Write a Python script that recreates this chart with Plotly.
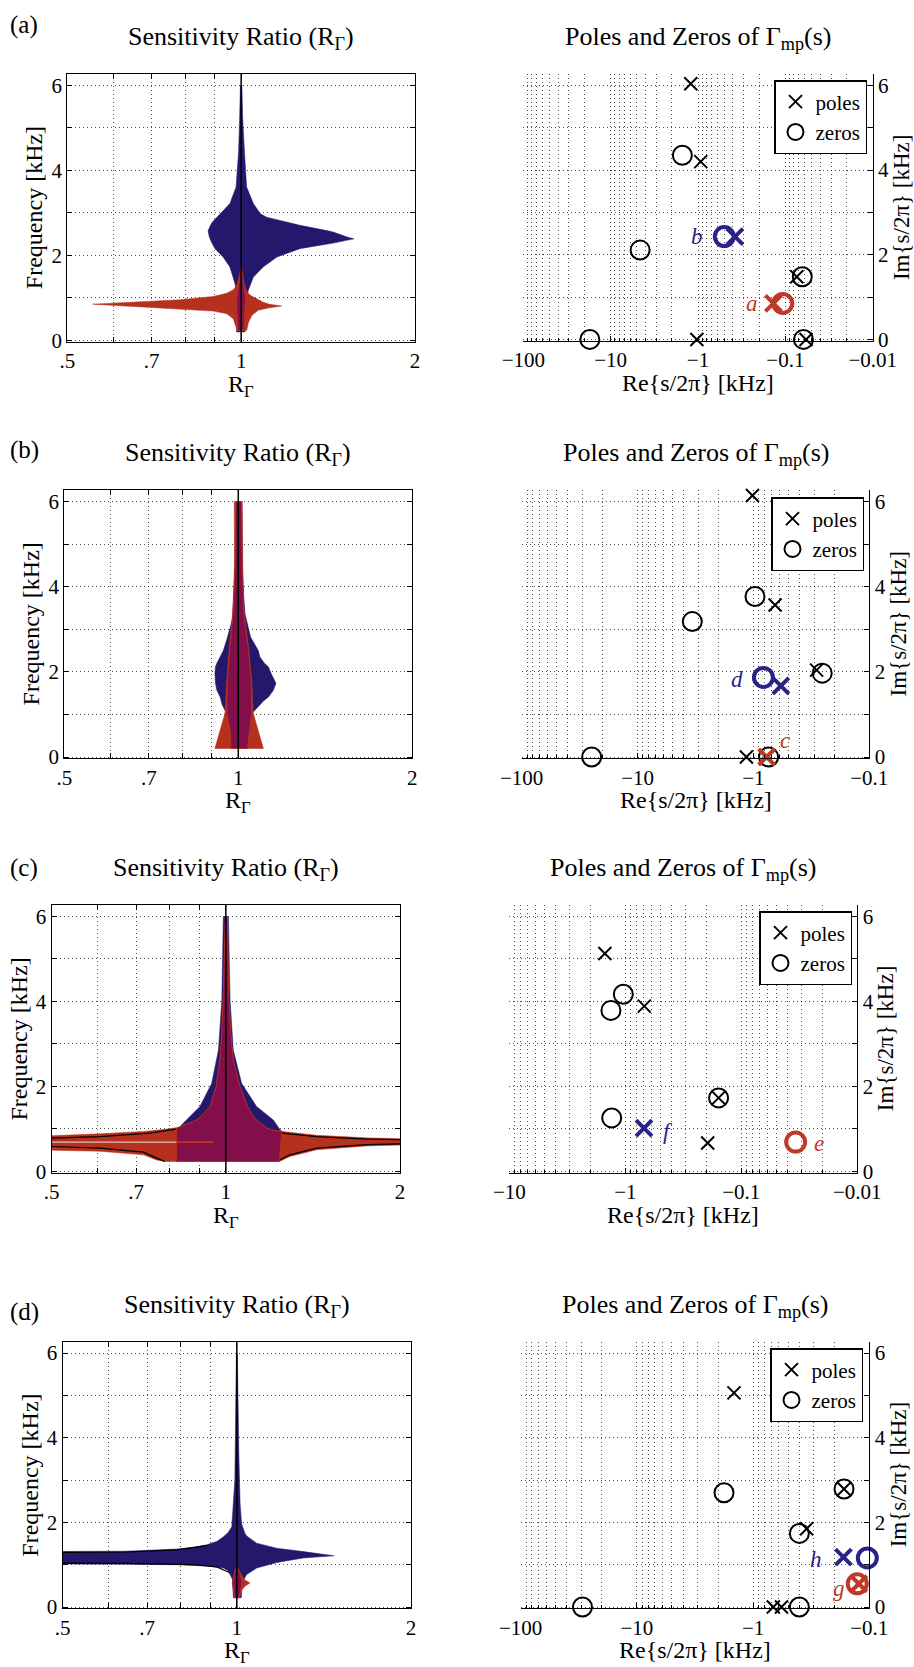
import math
import plotly.graph_objects as go

W, H = 914, 1667
FONT = "Liberation Serif"
BLUE, RED, MIX = "#24186C", "#B5311E", "#830F4A"
MK_BLUE, MK_RED = "#2A2286", "#C03826"
GRID = "rgba(0,0,0,0.7)"

# ---------------- sensitivity ratio regions (freq in kHz, R_Gamma) ----------------
# (a)
a_blue_f = [0.2, 0.94, 1.18, 1.33, 1.49, 1.73, 1.96, 2.16, 2.29, 2.39, 2.43, 2.55, 2.59, 2.71, 2.78, 2.90, 2.98, 3.22, 3.61, 4.47, 5.25, 6.0]
a_blue_lo = [0.982, 0.985, 0.980, 0.976, 0.968, 0.956, 0.931, 0.901, 0.890, 0.884, 0.881, 0.877, 0.877, 0.885, 0.891, 0.908, 0.919, 0.956, 0.980, 0.990, 0.994, 0.997]
a_blue_hi = [1.015, 1.022, 1.029, 1.038, 1.050, 1.092, 1.152, 1.264, 1.444, 1.568, 1.530, 1.444, 1.400, 1.264, 1.200, 1.107, 1.080, 1.050, 1.022, 1.013, 1.006, 1.003]
a_red_R = [0.553, 0.601, 0.686, 0.784, 0.895, 0.944, 0.969, 0.980, 0.985, 1.0, 1.008, 1.022, 1.03, 1.044, 1.07, 1.092, 1.12, 1.175]
a_red_flo = [0.854, 0.824, 0.784, 0.745, 0.69, 0.63, 0.51, 0.31, 0.235, 0.235, 0.235, 0.235, 0.43, 0.59, 0.71, 0.74, 0.77, 0.81]
a_red_fhi = [0.856, 0.887, 0.918, 0.957, 1.035, 1.11, 1.19, 1.28, 1.36, 1.69, 1.41, 1.18, 1.10, 1.04, 0.96, 0.90, 0.85, 0.81]
a_mix_f = [0.235, 0.6, 0.98, 1.25, 1.57, 1.72]
a_mix_lo = [0.986, 0.985, 0.982, 0.989, 0.995, 1.0]
a_mix_hi = [1.012, 1.013, 1.018, 1.013, 1.006, 1.0]

# (b)
b_blue_f = [0.2, 0.6, 1.02, 1.1, 1.22, 1.33, 1.41, 1.57, 1.73, 1.96, 2.12, 2.2, 2.35, 2.5, 2.82, 3.2, 3.37, 4.16, 6.0]
b_blue_lo = [0.971, 0.969, 0.962, 0.948, 0.938, 0.932, 0.930, 0.918, 0.913, 0.911, 0.913, 0.918, 0.930, 0.942, 0.958, 0.975, 0.978, 0.987, 0.990]
b_blue_hi = [1.038, 1.045, 1.055, 1.069, 1.090, 1.108, 1.128, 1.150, 1.162, 1.140, 1.127, 1.110, 1.090, 1.083, 1.050, 1.034, 1.027, 1.017, 1.013]
b_red_f = [0.2, 1.02, 1.8, 2.6, 3.37, 4.5, 6.0]
b_red_lo = [0.911, 0.948, 0.955, 0.965, 0.978, 0.985, 0.984]
b_red_hi = [1.105, 1.062, 1.055, 1.040, 1.023, 1.018, 1.016]
b_mix_f = [0.2, 0.6, 1.02, 1.8, 2.6, 3.37, 4.5, 6.0]
b_mix_lo = [0.971, 0.969, 0.955, 0.957, 0.967, 0.979, 0.987, 0.990]
b_mix_hi = [1.038, 1.045, 1.055, 1.053, 1.040, 1.023, 1.016, 1.013]

# (c)
c_blue_f = [0.235, 0.94, 1.02, 1.21, 1.53, 2.07, 2.86, 4.03, 6.0]
c_blue_lo = [0.822, 0.822, 0.828, 0.856, 0.902, 0.945, 0.971, 0.984, 0.990]
c_blue_hi = [1.237, 1.249, 1.235, 1.208, 1.130, 1.065, 1.030, 1.017, 1.010]
c_red_R = [0.45, 0.5, 0.606, 0.72, 0.759, 0.785, 0.82, 1.0, 1.237, 1.249, 1.29, 1.436, 1.752, 2.0, 2.1]
c_red_flo = [0.50, 0.50, 0.475, 0.39, 0.27, 0.235, 0.235, 0.235, 0.235, 0.26, 0.35, 0.51, 0.60, 0.62, 0.62]
c_red_fhi = [0.85, 0.84, 0.885, 0.94, 0.97, 0.99, 1.03, 1.0, 0.95, 0.94, 0.92, 0.85, 0.79, 0.77, 0.77]
c_mix_f = [0.235, 0.94, 0.97, 1.02, 1.21, 1.29, 1.53, 2.0, 2.62, 3.25, 4.03, 4.81, 6.0]
c_mix_lo = [0.822, 0.822, 0.822, 0.822, 0.890, 0.905, 0.939, 0.962, 0.976, 0.984, 0.989, 0.993, 0.998]
c_mix_hi = [1.237, 1.249, 1.210, 1.176, 1.130, 1.116, 1.090, 1.058, 1.030, 1.020, 1.012, 1.009, 1.006]
c_edge_ul_R = [0.45, 0.5, 0.606, 0.739, 0.82]
c_edge_ul_f = [0.78, 0.784, 0.82, 0.90, 0.995]
c_edge_ll_R = [0.45, 0.5, 0.606, 0.72, 0.759, 0.785]
c_edge_ll_f = [0.59, 0.587, 0.549, 0.455, 0.314, 0.235]
c_edge_ur_R = [1.249, 1.436, 1.752, 2.0, 2.1]
c_edge_ur_f = [0.90, 0.82, 0.76, 0.745, 0.745]
c_edge_lr_R = [1.24, 1.29, 1.436, 1.752, 2.0, 2.1]
c_edge_lr_f = [0.275, 0.39, 0.55, 0.63, 0.65, 0.65]
c_slit_R = [0.45, 0.82]
c_slit_f = [0.69, 0.69]
c_stub_R = [0.82, 0.951]
c_stub_f = [0.69, 0.69]

# (d)
d_blue_R = [0.45, 0.5, 0.645, 0.787, 0.841, 0.887, 0.923, 0.948, 0.966, 0.980, 0.983, 0.986, 0.992, 0.995, 0.998, 1.002, 1.008, 1.013, 1.018, 1.02, 1.033, 1.04, 1.082, 1.172, 1.303, 1.472]
d_blue_flo = [1.02, 1.02, 1.01, 1.0, 0.99, 0.97, 0.94, 0.92, 0.86, 0.7, 0.65, 0.22, 0.22, 0.22, 0.22, 0.22, 0.22, 0.22, 0.22, 0.57, 0.72, 0.77, 0.92, 1.05, 1.16, 1.21]
d_blue_fhi = [1.31, 1.31, 1.32, 1.37, 1.41, 1.47, 1.55, 1.66, 1.76, 1.9, 2.05, 2.45, 3.0, 3.62, 6.0, 6.0, 3.62, 2.45, 2.05, 1.95, 1.74, 1.68, 1.51, 1.39, 1.31, 1.21]
d_red_f = [0.22, 0.4, 0.5, 0.57, 0.65, 0.8, 0.96]
d_red_lo = [0.99, 0.985, 0.982, 0.982, 0.984, 0.99, 1.0]
d_red_hi = [1.01, 1.02, 1.035, 1.054, 1.03, 1.015, 1.0]
d_mix_f = [0.22, 0.5, 0.61, 0.8, 0.96]
d_mix_lo = [0.99, 0.984, 0.983, 0.99, 1.0]
d_mix_hi = [1.01, 1.018, 1.02, 1.012, 1.0]
d_edge_u_R = [0.45, 0.497, 0.645, 0.787, 0.887]
d_edge_u_f = [1.29, 1.29, 1.30, 1.35, 1.45]
d_edge_l_R = [0.45, 0.497, 0.645, 0.841, 0.923, 0.973]
d_edge_l_f = [1.04, 1.04, 1.03, 1.0, 0.95, 0.81]

unity_R = [1.0, 1.0]
unity_f = [-0.5, 7.0]

# ---------------- poles and zeros (Re, Im of s/2pi in kHz) ----------------
pa_poles_re = [-1.21, -0.93, -0.074, -1.03, -0.058]
pa_poles_im = [6.04, 4.20, 1.48, 0.0, 0.0]
pa_zeros_re = [-1.51, -4.6, -0.064, -17.3, -0.062]
pa_zeros_im = [4.35, 2.11, 1.48, 0.0, 0.0]
pa_hl_re = [-0.137, -0.107, -0.377, -0.50]
pa_hl_im = [0.85, 0.85, 2.43, 2.43]
pa_hl_kind = ["pole", "zero", "pole", "zero"]
pa_hl_tone = ["red", "red", "blue", "blue"]
pa_hl_tag = ["a", "", "", "b"]

pb_poles_re = [-1.02, -0.65, -0.285, -1.15]
pb_poles_im = [6.14, 3.57, 2.04, 0.0]
pb_zeros_re = [-0.97, -3.37, -0.255, -24.9, -0.74]
pb_zeros_im = [3.77, 3.18, 1.97, 0.0, 0.0]
pb_hl_re = [-0.77, -0.82, -0.58]
pb_hl_im = [0.0, 1.87, 1.67]
pb_hl_kind = ["pole", "zero", "pole"]
pb_hl_tone = ["red", "blue", "blue"]
pb_hl_tag = ["c", "d", ""]

pc_poles_re = [-1.50, -0.686, -0.157, -0.195]
pc_poles_im = [5.13, 3.89, 1.73, 0.67]
pc_zeros_re = [-1.04, -1.33, -0.157, -1.31]
pc_zeros_im = [4.17, 3.79, 1.73, 1.26]
pc_hl_re = [-0.69, -0.034]
pc_hl_im = [1.02, 0.69]
pc_hl_kind = ["pole", "zero"]
pc_hl_tone = ["blue", "red"]
pc_hl_tag = ["f", "e"]

pd_poles_re = [-1.46, -0.165, -0.346, -0.67, -0.57]
pd_poles_im = [5.06, 2.79, 1.85, 0.0, 0.0]
pd_zeros_re = [-1.78, -0.165, -0.40, -29.4, -0.40]
pd_zeros_im = [2.70, 2.79, 1.74, 0.0, 0.0]
pd_hl_re = [-0.167, -0.104, -0.127, -0.123]
pd_hl_im = [1.18, 1.16, 0.55, 0.55]
pd_hl_kind = ["pole", "zero", "zero", "pole"]
pd_hl_tone = ["blue", "blue", "red", "red"]
pd_hl_tag = ["h", "", "g", ""]

left_ticks = [0.5, 0.7, 1, 2]
left_ticktext = [".5", ".7", "1", "2"]
left_minor = [0.6, 0.8, 0.9]
freq_ticks = [0, 2, 4, 6]
freq_minor = [1, 3, 5]
re_ticks = [100, 10, 1, 0.1, 0.01]
re_ticktext = ["\u2212100", "\u221210", "\u22121", "\u22120.1", "\u22120.01"]
panel_names = ["(a)", "(b)", "(c)", "(d)"]

# ---------------- layout geometry (pixels) ----------------
LEFT_BOX = [(67.3, 415, 74, 341.7), (64.3, 412.3, 490, 758.3),
            (51.7, 400, 905, 1172.7), (62.7, 411, 1341.7, 1608.3)]
RIGHT_BOX = [(523.3, 872.7, 74, 340.7), (521.7, 869.3, 490, 758.3),
             (509.3, 857.3, 905, 1172.7), (520.7, 869.3, 1341.7, 1608.3)]
RIGHT_XRANGE = [[2, -2], [2, -1], [1, -2], [2, -1]]
YRANGE = [-0.03, 6.27]
LABEL_TOP = [9, 434, 852, 1296]
LEGEND_POS = [(867, 80), (864, 497), (852, 911), (863, 1348)]
TAG_SHIFT = {"a": (-21, 0), "b": (-27, 0), "c": (18, 17), "d": (-26, -2),
             "e": (23, -1), "f": (24, -3), "g": (-18, -5), "h": (-27, -2)}

LEFT_REGIONS = [
    [("v", a_blue_f, a_blue_lo, a_blue_hi, BLUE), ("h", a_red_R, a_red_flo, a_red_fhi, RED),
     ("v", a_mix_f, a_mix_lo, a_mix_hi, MIX)],
    [("v", b_blue_f, b_blue_lo, b_blue_hi, BLUE), ("v", b_red_f, b_red_lo, b_red_hi, RED),
     ("v", b_mix_f, b_mix_lo, b_mix_hi, MIX)],
    [("v", c_blue_f, c_blue_lo, c_blue_hi, BLUE), ("h", c_red_R, c_red_flo, c_red_fhi, RED),
     ("v", c_mix_f, c_mix_lo, c_mix_hi, MIX)],
    [("h", d_blue_R, d_blue_flo, d_blue_fhi, BLUE), ("v", d_red_f, d_red_lo, d_red_hi, RED),
     ("v", d_mix_f, d_mix_lo, d_mix_hi, MIX)],
]
LEFT_EDGES = [
    [], [],
    [(c_edge_ul_R, c_edge_ul_f, "black"), (c_edge_ll_R, c_edge_ll_f, "black"),
     (c_edge_ur_R, c_edge_ur_f, "black"), (c_edge_lr_R, c_edge_lr_f, "black"),
     (c_slit_R, c_slit_f, "#D9C2BC"), (c_stub_R, c_stub_f, "#D2451F")],
    [(d_edge_u_R, d_edge_u_f, "black"), (d_edge_l_R, d_edge_l_f, "black")],
]
RIGHT_DATA = [
    (pa_poles_re, pa_poles_im, pa_zeros_re, pa_zeros_im, pa_hl_re, pa_hl_im, pa_hl_kind, pa_hl_tone, pa_hl_tag),
    (pb_poles_re, pb_poles_im, pb_zeros_re, pb_zeros_im, pb_hl_re, pb_hl_im, pb_hl_kind, pb_hl_tone, pb_hl_tag),
    (pc_poles_re, pc_poles_im, pc_zeros_re, pc_zeros_im, pc_hl_re, pc_hl_im, pc_hl_kind, pc_hl_tone, pc_hl_tag),
    (pd_poles_re, pd_poles_im, pd_zeros_re, pd_zeros_im, pd_hl_re, pd_hl_im, pd_hl_kind, pd_hl_tone, pd_hl_tag),
]


def fx(px):
    return px / W


def fy(py):
    return 1 - py / H


def suffix(n):
    return "" if n == 1 else str(n)


def polygon(kind, a, lo, hi):
    if kind == "v":  # a = frequency, lo/hi = R edges
        return lo + hi[::-1] + [lo[0]], a + a[::-1] + [a[0]]
    # a = R, lo/hi = frequency edges
    return a + a[::-1] + [a[0]], lo + hi[::-1] + [lo[0]]


fig = go.Figure()
layout = dict(width=W, height=H, margin=dict(l=0, r=0, t=0, b=0), template="none",
              paper_bgcolor="white", plot_bgcolor="white",
              font=dict(family=FONT, size=21, color="black"), showlegend=True)
annotations = []

axis_common = dict(showline=True, linecolor="black", linewidth=1.3, ticks="inside", ticklen=5,
                   tickcolor="black", showgrid=True, gridcolor=GRID, griddash="1px,3px",
                   gridwidth=1, zeroline=False, automargin=False,
                   tickfont=dict(family=FONT, size=21, color="black"))
minor_grid = dict(tickmode="array", ticks="inside", tickcolor="black", showgrid=True,
                  gridcolor=GRID, griddash="1px,3px", gridwidth=1)

decade_minor = [k * 10 ** e for e in range(-3, 3) for k in range(2, 10)]

for i in range(4):
    # ---------- left: sensitivity ratio ----------
    n = 2 * i + 1
    sx, sy = "x" + suffix(n), "y" + suffix(n)
    l, r, t, b = LEFT_BOX[i]
    for kind, a, lo, hi, col in LEFT_REGIONS[i]:
        xs, ys = polygon(kind, a, lo, hi)
        fig.add_trace(go.Scatter(
            x=xs, y=ys, mode="lines", fill="toself", fillcolor=col,
            line=dict(color=RED if col == MIX else col, width=1 if col == MIX else 0.5),
            hoverinfo="skip", showlegend=False, xaxis=sx, yaxis=sy))
    for xs, ys, col in LEFT_EDGES[i]:
        fig.add_trace(go.Scatter(x=xs, y=ys, mode="lines", line=dict(color=col, width=1.2),
                                 hoverinfo="skip", showlegend=False, xaxis=sx, yaxis=sy))
    fig.add_trace(go.Scatter(x=unity_R, y=unity_f, mode="lines", line=dict(color="black", width=1.5),
                             hoverinfo="skip", showlegend=False, xaxis=sx, yaxis=sy))

    layout["xaxis" + suffix(n)] = dict(
        axis_common, type="log", range=[math.log10(0.5), math.log10(2)],
        domain=[fx(l), fx(r)], anchor=sy, mirror="ticks",
        tickmode="array", tickvals=left_ticks, ticktext=left_ticktext,
        minor=dict(minor_grid, tickvals=left_minor, ticklen=5))
    layout["yaxis" + suffix(n)] = dict(
        axis_common, range=YRANGE, domain=[fy(b), fy(t)], anchor=sx, mirror="ticks",
        tickmode="array", tickvals=freq_ticks,
        minor=dict(minor_grid, tickvals=freq_minor, ticklen=5))

    cx = (l + r) / 2
    annotations += [
        dict(text="Sensitivity Ratio (R<sub>\u0393</sub>)", x=fx(cx), y=fy(t - 54),
             xanchor="center", yanchor="top", font=dict(size=26)),
        dict(text="Frequency [kHz]", x=fx(l - 33), y=fy((t + b) / 2), textangle=-90,
             xanchor="center", yanchor="middle", font=dict(size=24)),
        dict(text="R<sub>\u0393</sub>", x=fx(cx), y=fy(b + 27),
             xanchor="center", yanchor="top", font=dict(size=24)),
        dict(text=panel_names[i], x=fx(8), y=fy(LABEL_TOP[i]),
             xanchor="left", yanchor="top", font=dict(size=25)),
    ]

    # ---------- right: poles and zeros ----------
    n = 2 * i + 2
    sx, sy = "x" + suffix(n), "y" + suffix(n)
    l, r, t, b = RIGHT_BOX[i]
    p_re, p_im, z_re, z_im, h_re, h_im, h_kind, h_tone, h_tag = RIGHT_DATA[i]
    leg = "legend" + suffix(i + 1)

    fig.add_trace(go.Scatter(
        x=[-v for v in p_re], y=p_im, mode="markers", name="poles", legend=leg,
        marker=dict(symbol="x-thin-open", size=13, color="black", line=dict(width=2, color="black")),
        cliponaxis=False, xaxis=sx, yaxis=sy))
    fig.add_trace(go.Scatter(
        x=[-v for v in z_re], y=z_im, mode="markers", name="zeros", legend=leg,
        marker=dict(symbol="circle-open", size=19, color="black", line=dict(width=2, color="black")),
        cliponaxis=False, xaxis=sx, yaxis=sy))
    for re, im, kind, tone, tag in zip(h_re, h_im, h_kind, h_tone, h_tag):
        col = MK_RED if tone == "red" else MK_BLUE
        sym, size = ("x-thin-open", 16) if kind == "pole" else ("circle-open", 19)
        fig.add_trace(go.Scatter(
            x=[-re], y=[im], mode="markers", showlegend=False, hoverinfo="skip",
            marker=dict(symbol=sym, size=size, color=col, line=dict(width=4, color=col)),
            cliponaxis=False, xaxis=sx, yaxis=sy))
        if tag:
            dx, dy = TAG_SHIFT[tag]
            annotations.append(dict(
                text="<i>%s</i>" % tag, x=math.log10(-re), y=im, xref=sx, yref=sy,
                xshift=dx, yshift=dy, showarrow=False, xanchor="center", yanchor="middle",
                font=dict(size=23, color=col)))

    layout["xaxis" + suffix(n)] = dict(
        axis_common, type="log", range=RIGHT_XRANGE[i], domain=[fx(l), fx(r)], anchor=sy,
        mirror=False, tickmode="array", tickvals=re_ticks, ticktext=re_ticktext,
        minor=dict(minor_grid, tickvals=decade_minor, ticklen=3))
    layout["yaxis" + suffix(n)] = dict(
        axis_common, range=YRANGE, domain=[fy(b), fy(t)], anchor=sx, side="right",
        mirror=False, tickmode="array", tickvals=freq_ticks,
        minor=dict(minor_grid, tickvals=freq_minor, ticklen=5))

    lx, ly = LEGEND_POS[i]
    layout[leg] = dict(x=fx(lx), y=fy(ly), xanchor="right", yanchor="top", bgcolor="white",
                       bordercolor="black", borderwidth=1.5, tracegroupgap=0,
                       font=dict(family=FONT, size=21, color="black"))

    cx = (l + r) / 2
    annotations += [
        dict(text="Poles and Zeros of \u0393<sub>mp</sub>(s)", x=fx(cx), y=fy(t - 54),
             xanchor="center", yanchor="top", font=dict(size=26)),
        dict(text="Re{s/2\u03c0} [kHz]", x=fx(cx), y=fy(b + 27),
             xanchor="center", yanchor="top", font=dict(size=24)),
        dict(text="Im{s/2\u03c0} [kHz]", x=fx(r + 29), y=fy((t + b) / 2), textangle=-90,
             xanchor="center", yanchor="middle", font=dict(size=23)),
    ]

for a in annotations:
    a.setdefault("xref", "paper")
    a.setdefault("yref", "paper")
    a.setdefault("showarrow", False)
    a["font"] = dict(dict(family=FONT, color="black"), **a["font"])
layout["annotations"] = annotations

fig.update_layout(**layout)
fig.write_html("out.html", config={"displayModeBar": False},
               post_script="document.body.style.margin='0';")
